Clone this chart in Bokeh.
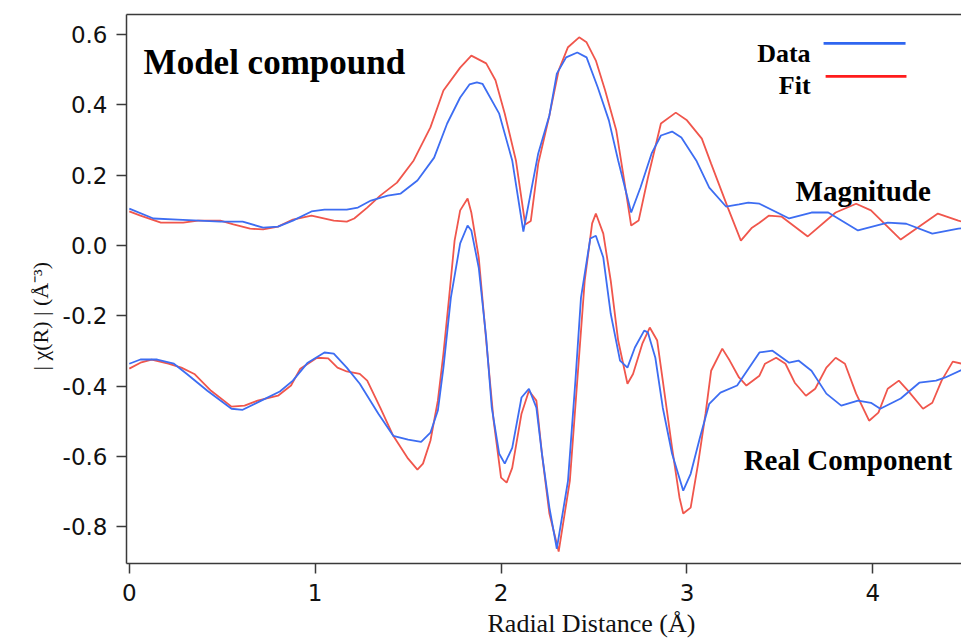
import math
from bokeh.plotting import figure
from bokeh.models import (Range1d, FixedTicker, LinearAxis, Label, BoxAnnotation, Title)
from bokeh.embed import file_html
from bokeh.resources import INLINE

# ---------------- data ----------------
mag_data_r = [0.00, 0.13, 0.26, 0.49, 0.61, 0.72, 0.80, 0.88, 0.98, 1.05, 1.17, 1.23, 1.30, 1.39,
              1.46, 1.55, 1.64, 1.71, 1.78, 1.83, 1.87, 1.90, 1.99, 2.06, 2.12, 2.20, 2.26, 2.30,
              2.35, 2.41, 2.46, 2.52, 2.58, 2.63, 2.70, 2.75, 2.81, 2.86, 2.92, 2.97, 3.05, 3.12,
              3.21, 3.28, 3.33, 3.39, 3.55, 3.67, 3.76, 3.92, 4.08, 4.18, 4.32, 4.46, 4.50]
mag_data_y = [0.105, 0.077, 0.074, 0.068, 0.068, 0.051, 0.054, 0.071, 0.097, 0.102, 0.102, 0.108,
              0.128, 0.142, 0.148, 0.185, 0.250, 0.347, 0.421, 0.458, 0.464, 0.460, 0.375, 0.242,
              0.040, 0.262, 0.370, 0.489, 0.535, 0.549, 0.535, 0.450, 0.356, 0.242, 0.094, 0.165,
              0.262, 0.313, 0.324, 0.307, 0.242, 0.165, 0.111, 0.117, 0.122, 0.119, 0.077, 0.094,
              0.094, 0.043, 0.065, 0.062, 0.034, 0.048, 0.050]

mag_fit_r = [0.00, 0.06, 0.17, 0.29, 0.37, 0.49, 0.56, 0.65, 0.72, 0.80, 0.88, 0.98, 1.10, 1.17,
             1.21, 1.28, 1.35, 1.44, 1.53, 1.62, 1.69, 1.78, 1.84, 1.92, 1.97, 2.02, 2.08, 2.13,
             2.16, 2.20, 2.26, 2.31, 2.36, 2.42, 2.46, 2.51, 2.56, 2.62, 2.66, 2.70, 2.74, 2.79,
             2.86, 2.94, 3.00, 3.08, 3.13, 3.22, 3.29, 3.35, 3.39, 3.44, 3.51, 3.65, 3.80, 3.91,
             3.99, 4.15, 4.35, 4.46, 4.50]
mag_fit_y = [0.097, 0.085, 0.065, 0.065, 0.071, 0.071, 0.060, 0.048, 0.046, 0.054, 0.074, 0.085,
             0.071, 0.068, 0.077, 0.108, 0.142, 0.179, 0.242, 0.336, 0.441, 0.506, 0.540, 0.518,
             0.470, 0.375, 0.242, 0.060, 0.070, 0.233, 0.370, 0.498, 0.564, 0.592, 0.578, 0.526,
             0.441, 0.327, 0.193, 0.057, 0.071, 0.193, 0.347, 0.378, 0.356, 0.304, 0.233, 0.108,
             0.014, 0.051, 0.065, 0.085, 0.082, 0.026, 0.094, 0.119, 0.100, 0.017, 0.091, 0.071,
             0.065]

re_data_r = [0.00, 0.06, 0.15, 0.24, 0.31, 0.42, 0.55, 0.61, 0.71, 0.81, 0.88, 0.96, 1.05, 1.10,
             1.17, 1.24, 1.34, 1.42, 1.50, 1.57, 1.62, 1.66, 1.69, 1.73, 1.78, 1.82, 1.84, 1.88,
             1.92, 1.95, 1.99, 2.02, 2.06, 2.11, 2.15, 2.19, 2.22, 2.26, 2.30, 2.36, 2.40, 2.43,
             2.48, 2.51, 2.55, 2.59, 2.64, 2.68, 2.72, 2.77, 2.79, 2.83, 2.87, 2.92, 2.98, 3.02,
             3.07, 3.12, 3.18, 3.27, 3.39, 3.46, 3.55, 3.60, 3.67, 3.75, 3.83, 3.92, 3.99, 4.04,
             4.15, 4.25, 4.34, 4.39, 4.48]
re_data_y = [-0.336, -0.324, -0.324, -0.336, -0.365, -0.413, -0.464, -0.467, -0.441, -0.415,
             -0.384, -0.333, -0.304, -0.307, -0.347, -0.393, -0.478, -0.541, -0.552, -0.558,
             -0.532, -0.469, -0.347, -0.148, 0.006, 0.057, 0.043, -0.063, -0.262, -0.461, -0.592,
             -0.620, -0.575, -0.432, -0.407, -0.461, -0.592, -0.745, -0.862, -0.669, -0.384,
             -0.148, 0.020, 0.028, -0.034, -0.194, -0.327, -0.347, -0.290, -0.242, -0.247,
             -0.319, -0.461, -0.592, -0.697, -0.649, -0.546, -0.450, -0.418, -0.398, -0.304,
             -0.299, -0.333, -0.327, -0.356, -0.421, -0.455, -0.441, -0.447, -0.464, -0.435,
             -0.390, -0.384, -0.375, -0.353]

re_fit_r = [0.00, 0.06, 0.12, 0.21, 0.28, 0.35, 0.44, 0.55, 0.62, 0.69, 0.80, 0.87, 0.92, 1.01,
            1.07, 1.12, 1.17, 1.24, 1.28, 1.35, 1.42, 1.50, 1.55, 1.58, 1.62, 1.66, 1.69, 1.72,
            1.75, 1.78, 1.82, 1.84, 1.88, 1.92, 1.96, 2.00, 2.03, 2.06, 2.11, 2.15, 2.19, 2.22,
            2.26, 2.31, 2.37, 2.41, 2.45, 2.49, 2.51, 2.55, 2.59, 2.63, 2.68, 2.71, 2.76, 2.80,
            2.84, 2.87, 2.92, 2.96, 2.98, 3.02, 3.06, 3.10, 3.13, 3.19, 3.23, 3.28, 3.32, 3.39,
            3.42, 3.48, 3.53, 3.58, 3.64, 3.69, 3.75, 3.80, 3.85, 3.91, 3.98, 4.03, 4.08, 4.14,
            4.19, 4.27, 4.32, 4.37, 4.43, 4.48]
re_fit_y = [-0.350, -0.333, -0.324, -0.336, -0.347, -0.365, -0.413, -0.458, -0.455, -0.441,
            -0.427, -0.398, -0.350, -0.319, -0.321, -0.347, -0.358, -0.365, -0.384, -0.461,
            -0.541, -0.606, -0.637, -0.620, -0.555, -0.441, -0.307, -0.150, 0.014, 0.100, 0.134,
            0.094, -0.034, -0.270, -0.498, -0.660, -0.674, -0.632, -0.478, -0.413, -0.441,
            -0.592, -0.762, -0.870, -0.669, -0.384, -0.100, 0.063, 0.091, 0.034, -0.100, -0.270,
            -0.393, -0.365, -0.279, -0.233, -0.270, -0.384, -0.575, -0.717, -0.762, -0.745,
            -0.620, -0.478, -0.356, -0.293, -0.327, -0.375, -0.398, -0.370, -0.336, -0.319,
            -0.336, -0.390, -0.427, -0.407, -0.347, -0.319, -0.336, -0.421, -0.498, -0.475,
            -0.407, -0.384, -0.413, -0.464, -0.447, -0.384, -0.330, -0.336]

x_ticks = [0, 1, 2, 3, 4]
x_tick_labels = ["0", "1", "2", "3", "4"]
y_ticks = [-0.8, -0.6, -0.4, -0.2, 0.0, 0.2, 0.4, 0.6]
y_tick_labels = ["-0.8", "-0.6", "-0.4", "-0.2", "0.0", "0.2", "0.4", "0.6"]

x_title = "Radial Distance (Å)"
y_title = "| χ(R) | (Å⁻³)"

# ---------------- styling ----------------
BLUE = "#3d6df2"
RED = "#f0564c"
LEG_BLUE = "#2f66f0"
LEG_RED = "#ff1c1c"
AXIS = "#3a3a3a"
SERIF = "Liberation Serif"
SANS = "DejaVu Sans"

p = figure(width=961, height=642, output_backend="svg", toolbar_location=None,
           x_range=Range1d(-0.015, 4.477), y_range=Range1d(-0.904, 0.657),
           min_border_left=126, min_border_right=0, min_border_top=14, min_border_bottom=79)
p.background_fill_color = "white"
p.border_fill_color = "white"
p.outline_line_color = None
p.grid.visible = False

for ax in (p.xaxis[0], p.yaxis[0]):
    ax.axis_line_color = AXIS
    ax.axis_line_width = 1.5
    ax.major_tick_line_color = AXIS
    ax.major_tick_line_width = 1.5
    ax.major_tick_out = 10
    ax.major_tick_in = 0
    ax.minor_tick_line_color = None
    ax.major_label_text_font = SANS
    ax.major_label_text_font_size = "23px"
    ax.major_label_text_color = "#111111"

p.xaxis.ticker = FixedTicker(ticks=x_ticks)
p.xaxis.major_label_overrides = {t: s for t, s in zip(x_ticks, x_tick_labels)}
p.xaxis.major_label_standoff = 10
p.yaxis.ticker = FixedTicker(ticks=y_ticks)
p.yaxis.major_label_overrides = {t: s for t, s in zip(y_ticks, y_tick_labels)}
p.yaxis.major_label_standoff = 9

top = LinearAxis(axis_line_color=AXIS, axis_line_width=1.5,
                 major_tick_line_color=None, minor_tick_line_color=None,
                 major_tick_out=0, major_tick_in=0, minor_tick_out=0, minor_tick_in=0,
                 major_label_text_font_size="0px", major_label_standoff=0,
                 ticker=FixedTicker(ticks=[]))
p.add_layout(top, "above")

xt = Title(text=x_title, align="left", offset=361, text_font=SERIF,
           text_font_size="26px", text_font_style="normal", text_color="#111111",
           standoff=6)
p.add_layout(xt, "below")

yt = Title(text=y_title, align="left", offset=193, text_font=SERIF,
           text_font_size="22px", text_font_style="normal", text_color="#111111",
           standoff=14)
p.add_layout(yt, "left")

# ---------------- curves ----------------
p.line(mag_fit_r, mag_fit_y, line_color=RED, line_width=1.8)
p.line(mag_data_r, mag_data_y, line_color=BLUE, line_width=1.8)
p.line(re_fit_r, re_fit_y, line_color=RED, line_width=1.8)
p.line(re_data_r, re_data_y, line_color=BLUE, line_width=1.8)

# ---------------- texts ----------------
def lab(x, y, text, size, align="left"):
    p.add_layout(Label(x=x, y=y, text=text, text_font=SERIF, text_font_size=size,
                       text_font_style="bold", text_align=align,
                       text_baseline="alphabetic", text_color="black"))

lab(0.077, 0.521, "Model compound", "35px")
lab(3.665, 0.546, "Data", "26px", align="right")
lab(3.665, 0.455, "Fit", "26px", align="right")
lab(3.584, 0.156, "Magnitude", "29px")
lab(3.305, -0.609, "Real Component", "29px")

# legend sample lines
p.add_layout(BoxAnnotation(left=3.735, right=4.176, bottom=0.571, top=0.579,
                           fill_color=LEG_BLUE, fill_alpha=1, line_color=None))
p.add_layout(BoxAnnotation(left=3.746, right=4.181, bottom=0.477, top=0.485,
                           fill_color=LEG_RED, fill_alpha=1, line_color=None))

open("out.html", "w").write(file_html(p, INLINE))
